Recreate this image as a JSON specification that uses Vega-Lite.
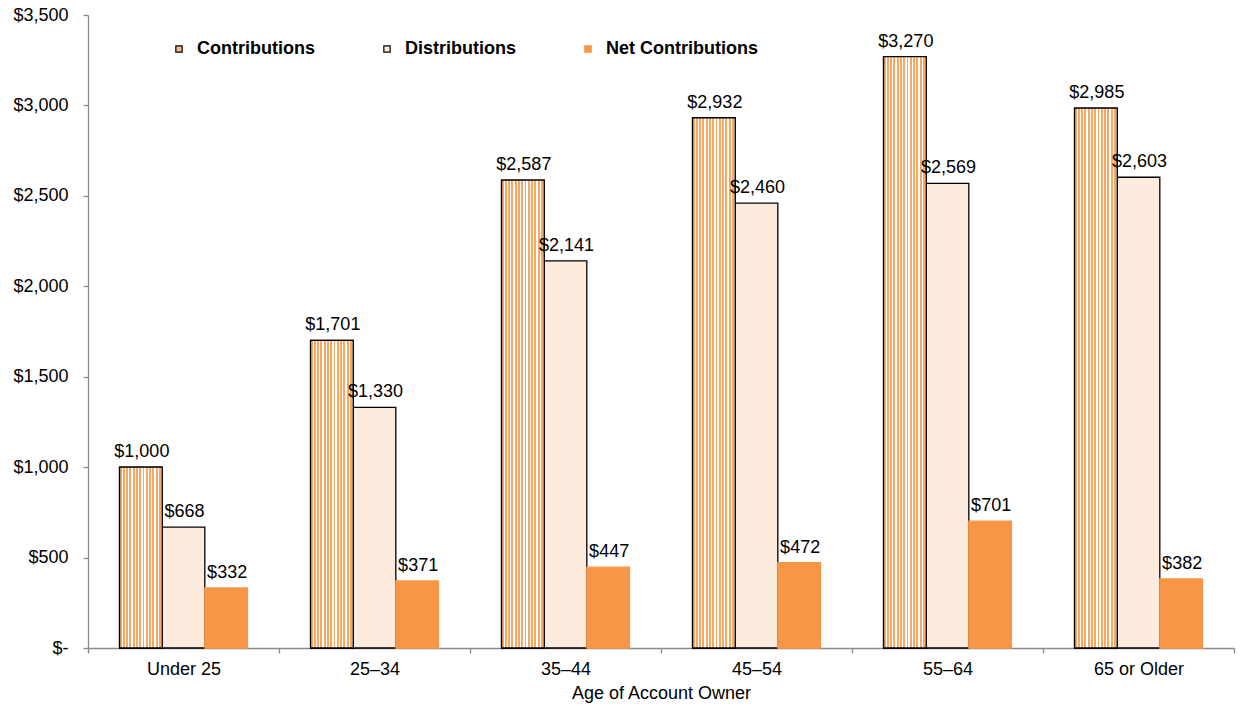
{
  "$schema": "https://vega.github.io/schema/vega-lite/v6.json",
  "width": 1146,
  "height": 633,
  "autosize": {"type": "none"},
  "padding": {"left": 88, "top": 15, "right": 7, "bottom": 64},
  "background": "#ffffff",
  "config": {"view": {"stroke": null}, "font": "Liberation Sans"},
  "data": {"values": [
    {"age": "Under 25", "series": "Contributions", "value": 1000},
    {"age": "Under 25", "series": "Distributions", "value": 668},
    {"age": "Under 25", "series": "Net Contributions", "value": 332},
    {"age": "25–34", "series": "Contributions", "value": 1701},
    {"age": "25–34", "series": "Distributions", "value": 1330},
    {"age": "25–34", "series": "Net Contributions", "value": 371},
    {"age": "35–44", "series": "Contributions", "value": 2587},
    {"age": "35–44", "series": "Distributions", "value": 2141},
    {"age": "35–44", "series": "Net Contributions", "value": 447},
    {"age": "45–54", "series": "Contributions", "value": 2932},
    {"age": "45–54", "series": "Distributions", "value": 2460},
    {"age": "45–54", "series": "Net Contributions", "value": 472},
    {"age": "55–64", "series": "Contributions", "value": 3270},
    {"age": "55–64", "series": "Distributions", "value": 2569},
    {"age": "55–64", "series": "Net Contributions", "value": 701},
    {"age": "65 or Older", "series": "Contributions", "value": 2985},
    {"age": "65 or Older", "series": "Distributions", "value": 2603},
    {"age": "65 or Older", "series": "Net Contributions", "value": 382}
  ]},
  "encoding": {
    "x": {
      "field": "age", "type": "nominal",
      "sort": ["Under 25", "25–34", "35–44", "45–54", "55–64", "65 or Older"],
      "scale": {"paddingInner": 0, "paddingOuter": 0},
      "axis": {
        "title": "Age of Account Owner",
        "labelAngle": 0,
        "labelFont": "Liberation Sans", "labelFontSize": 18, "labelColor": "#000000",
        "labelPadding": 7,
        "titleFont": "Liberation Sans", "titleFontSize": 18, "titleFontWeight": "normal", "titleColor": "#000000",
        "titlePadding": 6,
        "domainColor": "#898989", "domainWidth": 1.3,
        "tickColor": "#898989", "tickSize": 5, "tickWidth": 1.3,
        "tickBand": "extent"
      }
    },
    "xOffset": {
      "field": "series", "type": "nominal",
      "scale": {"domain": ["Contributions", "Distributions", "Net Contributions"], "paddingInner": 0, "paddingOuter": 0.74}
    },
    "y": {
      "field": "value", "type": "quantitative",
      "scale": {"domain": [0, 3500], "nice": false},
      "axis": {
        "title": null,
        "values": [0, 500, 1000, 1500, 2000, 2500, 3000, 3500],
        "labelExpr": "datum.value === 0 ? '$-\u00a0\u00a0' : format(datum.value, '$,')",
        "labelFont": "Liberation Sans", "labelFontSize": 18, "labelColor": "#000000",
        "labelPadding": 15,
        "grid": false,
        "domainColor": "#898989", "domainWidth": 1.3,
        "tickColor": "#898989", "tickSize": 5, "tickWidth": 1.3
      }
    }
  },
  "layer": [
    {
      "mark": {"type": "bar", "strokeWidth": 1.3},
      "encoding": {
        "fill": {
          "field": "series", "type": "nominal",
          "scale": {"domain": ["Contributions", "Distributions", "Net Contributions"], "range": ["#F9B884", "#FDEBDD", "#F79646"]},
          "legend": {
            "title": null, "orient": "none", "legendX": 82, "legendY": 25, "direction": "horizontal",
            "labelFont": "Liberation Sans", "labelFontWeight": "bold", "labelFontSize": 18, "labelColor": "#000000",
            "columnPadding": 63, "labelOffset": 9, "symbolType": "square", "symbolSize": 40, "symbolStrokeWidth": 1.2, "padding": 0
          }
        },
        "stroke": {
          "field": "series", "type": "nominal",
          "scale": {"domain": ["Contributions", "Distributions", "Net Contributions"], "range": ["#000000", "#000000", "#F79646"]},
          "legend": {
            "title": null, "orient": "none", "legendX": 82, "legendY": 25, "direction": "horizontal",
            "labelFont": "Liberation Sans", "labelFontWeight": "bold", "labelFontSize": 18, "labelColor": "#000000",
            "columnPadding": 63, "labelOffset": 9, "symbolType": "square", "symbolSize": 40, "symbolStrokeWidth": 1.2, "padding": 0
          }
        }
      }
    },
    {
      "transform": [{"filter": "datum.series === 'Contributions'"}],
      "mark": {
        "type": "bar", "stroke": "#000000", "strokeWidth": 1.3,
        "fill": {
          "gradient": "linear", "x1": 0, "x2": 1, "y1": 0, "y2": 0,
          "stops": [
            {"offset": 0, "color": "#F9A862"}, {"offset": 0.046, "color": "#F9A862"}, {"offset": 0.046, "color": "#FFFFFF"}, {"offset": 0.0769, "color": "#FFFFFF"},
            {"offset": 0.0769, "color": "#F9A862"}, {"offset": 0.1229, "color": "#F9A862"}, {"offset": 0.1229, "color": "#FFFFFF"}, {"offset": 0.1538, "color": "#FFFFFF"},
            {"offset": 0.1538, "color": "#F9A862"}, {"offset": 0.1998, "color": "#F9A862"}, {"offset": 0.1998, "color": "#FFFFFF"}, {"offset": 0.2308, "color": "#FFFFFF"},
            {"offset": 0.2308, "color": "#F9A862"}, {"offset": 0.2768, "color": "#F9A862"}, {"offset": 0.2768, "color": "#FFFFFF"}, {"offset": 0.3077, "color": "#FFFFFF"},
            {"offset": 0.3077, "color": "#F9A862"}, {"offset": 0.3537, "color": "#F9A862"}, {"offset": 0.3537, "color": "#FFFFFF"}, {"offset": 0.3846, "color": "#FFFFFF"},
            {"offset": 0.3846, "color": "#F9A862"}, {"offset": 0.4306, "color": "#F9A862"}, {"offset": 0.4306, "color": "#FFFFFF"}, {"offset": 0.4615, "color": "#FFFFFF"},
            {"offset": 0.4615, "color": "#F9A862"}, {"offset": 0.5075, "color": "#F9A862"}, {"offset": 0.5075, "color": "#FFFFFF"}, {"offset": 0.5385, "color": "#FFFFFF"},
            {"offset": 0.5385, "color": "#F9A862"}, {"offset": 0.5845, "color": "#F9A862"}, {"offset": 0.5845, "color": "#FFFFFF"}, {"offset": 0.6154, "color": "#FFFFFF"},
            {"offset": 0.6154, "color": "#F9A862"}, {"offset": 0.6614, "color": "#F9A862"}, {"offset": 0.6614, "color": "#FFFFFF"}, {"offset": 0.6923, "color": "#FFFFFF"},
            {"offset": 0.6923, "color": "#F9A862"}, {"offset": 0.7383, "color": "#F9A862"}, {"offset": 0.7383, "color": "#FFFFFF"}, {"offset": 0.7692, "color": "#FFFFFF"},
            {"offset": 0.7692, "color": "#F9A862"}, {"offset": 0.8152, "color": "#F9A862"}, {"offset": 0.8152, "color": "#FFFFFF"}, {"offset": 0.8462, "color": "#FFFFFF"},
            {"offset": 0.8462, "color": "#F9A862"}, {"offset": 0.8922, "color": "#F9A862"}, {"offset": 0.8922, "color": "#FFFFFF"}, {"offset": 0.9231, "color": "#FFFFFF"},
            {"offset": 0.9231, "color": "#F9A862"}, {"offset": 0.9691, "color": "#F9A862"}, {"offset": 0.9691, "color": "#FFFFFF"}, {"offset": 1, "color": "#FFFFFF"}
          ]
        }
      }
    },
    {
      "mark": {"type": "text", "baseline": "alphabetic", "dy": -10, "dx": 1, "font": "Liberation Sans", "fontSize": 18, "color": "#000000"},
      "encoding": {"text": {"field": "value", "type": "quantitative", "format": "$,.0f"}}
    }
  ]
}
